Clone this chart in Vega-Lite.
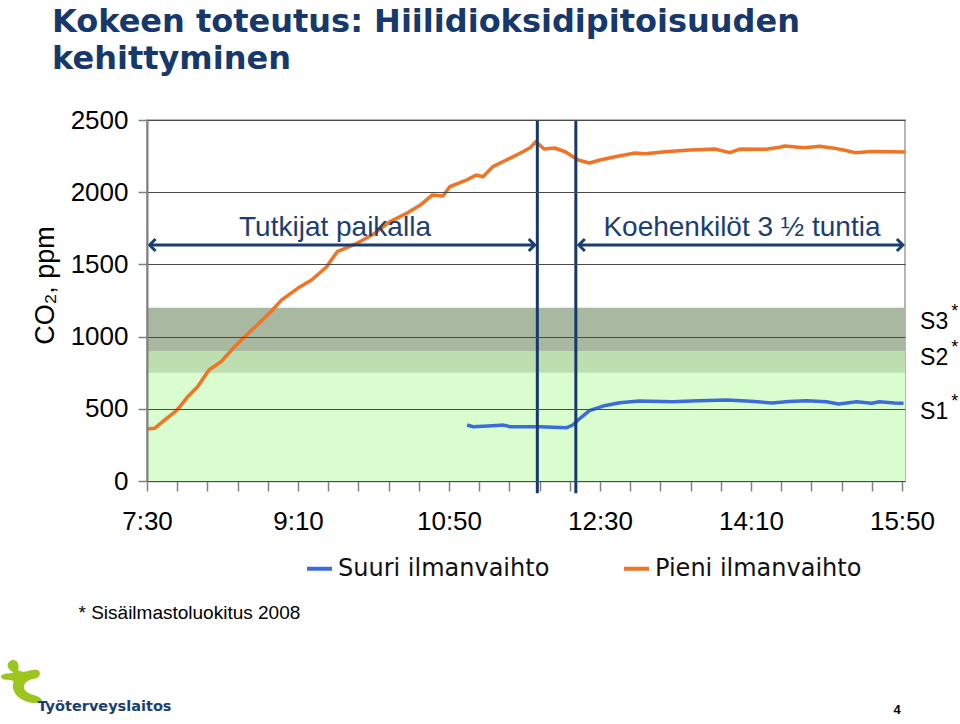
{
  "$schema": "https://vega.github.io/schema/vega-lite/v6.json",
  "width": 758,
  "height": 361,
  "autosize": {"type": "none"},
  "padding": {"left": 147, "top": 120, "right": 55, "bottom": 243},
  "background": "white",
  "config": {"view": {"stroke": "#a0a0a0", "strokeWidth": 1.5}},
  "title": {
    "text": ["Kokeen toteutus: Hiilidioksidipitoisuuden", "kehittyminen"],
    "anchor": "start",
    "frame": "group",
    "dx": -95,
    "offset": -1,
    "baseline": "bottom",
    "font": "DejaVu Sans",
    "fontWeight": "bold",
    "fontSize": 32,
    "lineHeight": 37,
    "color": "#17386B"
  },
  "datasets": {
    "series": [
      {"t": 450, "co2": 360, "s": "Pieni ilmanvaihto"},
      {"t": 455, "co2": 365, "s": "Pieni ilmanvaihto"},
      {"t": 461.6, "co2": 422, "s": "Pieni ilmanvaihto"},
      {"t": 468, "co2": 475, "s": "Pieni ilmanvaihto"},
      {"t": 471, "co2": 505, "s": "Pieni ilmanvaihto"},
      {"t": 477, "co2": 584, "s": "Pieni ilmanvaihto"},
      {"t": 483.5, "co2": 653, "s": "Pieni ilmanvaihto"},
      {"t": 491, "co2": 769, "s": "Pieni ilmanvaihto"},
      {"t": 499, "co2": 826, "s": "Pieni ilmanvaihto"},
      {"t": 508, "co2": 930, "s": "Pieni ilmanvaihto"},
      {"t": 514.6, "co2": 999, "s": "Pieni ilmanvaihto"},
      {"t": 523, "co2": 1080, "s": "Pieni ilmanvaihto"},
      {"t": 532, "co2": 1172, "s": "Pieni ilmanvaihto"},
      {"t": 539, "co2": 1253, "s": "Pieni ilmanvaihto"},
      {"t": 550, "co2": 1336, "s": "Pieni ilmanvaihto"},
      {"t": 559, "co2": 1392, "s": "Pieni ilmanvaihto"},
      {"t": 569, "co2": 1484, "s": "Pieni ilmanvaihto"},
      {"t": 572, "co2": 1530, "s": "Pieni ilmanvaihto"},
      {"t": 576, "co2": 1588, "s": "Pieni ilmanvaihto"},
      {"t": 589, "co2": 1646, "s": "Pieni ilmanvaihto"},
      {"t": 599, "co2": 1703, "s": "Pieni ilmanvaihto"},
      {"t": 611, "co2": 1796, "s": "Pieni ilmanvaihto"},
      {"t": 622, "co2": 1854, "s": "Pieni ilmanvaihto"},
      {"t": 631, "co2": 1911, "s": "Pieni ilmanvaihto"},
      {"t": 639, "co2": 1981, "s": "Pieni ilmanvaihto"},
      {"t": 646, "co2": 1974, "s": "Pieni ilmanvaihto"},
      {"t": 650.5, "co2": 2038, "s": "Pieni ilmanvaihto"},
      {"t": 661.5, "co2": 2084, "s": "Pieni ilmanvaihto"},
      {"t": 668, "co2": 2119, "s": "Pieni ilmanvaihto"},
      {"t": 672.5, "co2": 2107, "s": "Pieni ilmanvaihto"},
      {"t": 679, "co2": 2177, "s": "Pieni ilmanvaihto"},
      {"t": 688, "co2": 2223, "s": "Pieni ilmanvaihto"},
      {"t": 699, "co2": 2280, "s": "Pieni ilmanvaihto"},
      {"t": 704, "co2": 2310, "s": "Pieni ilmanvaihto"},
      {"t": 707.5, "co2": 2350, "s": "Pieni ilmanvaihto"},
      {"t": 713, "co2": 2299, "s": "Pieni ilmanvaihto"},
      {"t": 720, "co2": 2306, "s": "Pieni ilmanvaihto"},
      {"t": 727, "co2": 2280, "s": "Pieni ilmanvaihto"},
      {"t": 735.6, "co2": 2223, "s": "Pieni ilmanvaihto"},
      {"t": 743, "co2": 2202, "s": "Pieni ilmanvaihto"},
      {"t": 750, "co2": 2223, "s": "Pieni ilmanvaihto"},
      {"t": 760, "co2": 2246, "s": "Pieni ilmanvaihto"},
      {"t": 773, "co2": 2271, "s": "Pieni ilmanvaihto"},
      {"t": 780, "co2": 2266, "s": "Pieni ilmanvaihto"},
      {"t": 793, "co2": 2280, "s": "Pieni ilmanvaihto"},
      {"t": 800, "co2": 2285, "s": "Pieni ilmanvaihto"},
      {"t": 809.5, "co2": 2292, "s": "Pieni ilmanvaihto"},
      {"t": 826, "co2": 2299, "s": "Pieni ilmanvaihto"},
      {"t": 836, "co2": 2274, "s": "Pieni ilmanvaihto"},
      {"t": 842.6, "co2": 2299, "s": "Pieni ilmanvaihto"},
      {"t": 860, "co2": 2298, "s": "Pieni ilmanvaihto"},
      {"t": 869, "co2": 2311, "s": "Pieni ilmanvaihto"},
      {"t": 872.5, "co2": 2320, "s": "Pieni ilmanvaihto"},
      {"t": 885, "co2": 2308, "s": "Pieni ilmanvaihto"},
      {"t": 895.6, "co2": 2318, "s": "Pieni ilmanvaihto"},
      {"t": 905, "co2": 2305, "s": "Pieni ilmanvaihto"},
      {"t": 912, "co2": 2290, "s": "Pieni ilmanvaihto"},
      {"t": 919, "co2": 2274, "s": "Pieni ilmanvaihto"},
      {"t": 930, "co2": 2282, "s": "Pieni ilmanvaihto"},
      {"t": 942, "co2": 2280, "s": "Pieni ilmanvaihto"},
      {"t": 952, "co2": 2278, "s": "Pieni ilmanvaihto"},
      {"t": 662, "co2": 388, "s": "Suuri ilmanvaihto"},
      {"t": 666, "co2": 376, "s": "Suuri ilmanvaihto"},
      {"t": 679, "co2": 383, "s": "Suuri ilmanvaihto"},
      {"t": 686, "co2": 387, "s": "Suuri ilmanvaihto"},
      {"t": 688, "co2": 383, "s": "Suuri ilmanvaihto"},
      {"t": 690, "co2": 376, "s": "Suuri ilmanvaihto"},
      {"t": 710, "co2": 376, "s": "Suuri ilmanvaihto"},
      {"t": 728, "co2": 369, "s": "Suuri ilmanvaihto"},
      {"t": 732, "co2": 388, "s": "Suuri ilmanvaihto"},
      {"t": 737, "co2": 436, "s": "Suuri ilmanvaihto"},
      {"t": 743, "co2": 487, "s": "Suuri ilmanvaihto"},
      {"t": 752, "co2": 519, "s": "Suuri ilmanvaihto"},
      {"t": 763, "co2": 542, "s": "Suuri ilmanvaihto"},
      {"t": 776, "co2": 554, "s": "Suuri ilmanvaihto"},
      {"t": 798, "co2": 549, "s": "Suuri ilmanvaihto"},
      {"t": 815, "co2": 555, "s": "Suuri ilmanvaihto"},
      {"t": 834, "co2": 561, "s": "Suuri ilmanvaihto"},
      {"t": 850, "co2": 552, "s": "Suuri ilmanvaihto"},
      {"t": 864, "co2": 540, "s": "Suuri ilmanvaihto"},
      {"t": 875, "co2": 550, "s": "Suuri ilmanvaihto"},
      {"t": 887, "co2": 556, "s": "Suuri ilmanvaihto"},
      {"t": 900, "co2": 549, "s": "Suuri ilmanvaihto"},
      {"t": 908, "co2": 533, "s": "Suuri ilmanvaihto"},
      {"t": 920, "co2": 549, "s": "Suuri ilmanvaihto"},
      {"t": 930, "co2": 538, "s": "Suuri ilmanvaihto"},
      {"t": 935, "co2": 549, "s": "Suuri ilmanvaihto"},
      {"t": 945, "co2": 540, "s": "Suuri ilmanvaihto"},
      {"t": 951, "co2": 538, "s": "Suuri ilmanvaihto"}
    ],
    "bands": [
      {"band": "S1", "lo": 0, "hi": 750},
      {"band": "S2", "lo": 750, "hi": 900},
      {"band": "S3", "lo": 900, "hi": 1200}
    ],
    "events": [{"t": 708.5}, {"t": 734}],
    "arrows": [
      {"from": 451.7, "to": 706.8, "y": 1634},
      {"from": 736, "to": 950.6, "y": 1634}
    ],
    "notes": [
      {"label": "Tutkijat paikalla", "t": 574.5, "co2": 1755},
      {"label": "Koehenkilöt 3 ½ tuntia", "t": 844, "co2": 1755}
    ],
    "classes": [
      {"label": "S3", "t": 962, "co2": 1101, "star": 1170, "ts": 985},
      {"label": "S2", "t": 962, "co2": 852, "star": 921, "ts": 985},
      {"label": "S1", "t": 962, "co2": 478, "star": 547, "ts": 985}
    ],
    "logo": [{"name": "Työterveyslaitos", "t": 367.5, "co2": -1385, "tt": 377.4, "ty": -1565}],
    "page": [{"label": "4", "t": 946.7, "co2": -1586}]
  },
  "layer": [
    {
      "data": {"name": "bands"},
      "mark": {"type": "rect"},
      "encoding": {
        "y": {"field": "lo", "type": "quantitative", "scale": {"domain": [0, 2500], "nice": false}},
        "y2": {"field": "hi"},
        "color": {
          "field": "band",
          "type": "nominal",
          "scale": {"domain": ["S1", "S2", "S3"], "range": ["#DAFDD0", "#BDDFB0", "#A9B8A0"]},
          "legend": null
        }
      }
    },
    {
      "data": {"name": "series"},
      "mark": {"type": "line", "strokeWidth": 3.5, "strokeJoin": "round"},
      "encoding": {
        "x": {
          "field": "t",
          "type": "quantitative",
          "scale": {"domain": [450, 952], "nice": false, "zero": false},
          "axis": {
            "values": [450, 470, 490, 510, 530, 550, 570, 590, 610, 630, 650, 670, 690, 710, 730, 750, 770, 790, 810, 830, 850, 870, 890, 910, 930, 950],
            "tickCount": 100,
            "labelExpr": "datum.value % 100 == 50 ? (floor(datum.value / 60) + ':' + (datum.value % 60 < 10 ? '0' : '') + (datum.value % 60)) : ''",
            "labelOverlap": false,
            "labelFlush": false,
            "labelBound": false,
            "labelFont": "Liberation Sans",
            "labelFontSize": 26,
            "labelColor": "#000000",
            "labelPadding": 17,
            "labelBaseline": "top",
            "tickSize": 10,
            "tickColor": "#808080",
            "tickWidth": 1.5,
            "domainColor": "#808080",
            "domainWidth": 1.5,
            "grid": false,
            "title": "* Sisäilmastoluokitus 2008",
            "titleFont": "Liberation Sans",
            "titleFontSize": 19,
            "titleFontWeight": "normal",
            "titleColor": "#000000",
            "titleAnchor": "start",
            "titleAlign": "left",
            "titleBaseline": "middle",
            "titleX": -69,
            "titleY": 131
          }
        },
        "y": {
          "field": "co2",
          "type": "quantitative",
          "scale": {"domain": [0, 2500], "nice": false},
          "axis": {
            "values": [0, 500, 1000, 1500, 2000, 2500],
            "format": "d",
            "zindex": 1,
            "grid": true,
            "gridColor": "#4a4a4a",
            "gridWidth": 1,
            "labelFont": "Liberation Sans",
            "labelFontSize": 26,
            "labelColor": "#000000",
            "labelPadding": 10,
            "tickSize": 9,
            "tickColor": "#808080",
            "tickWidth": 1.5,
            "domainColor": "#808080",
            "domainWidth": 2,
            "title": "CO₂, ppm",
            "titleFont": "Liberation Sans",
            "titleFontSize": 27,
            "titleFontWeight": "normal",
            "titleColor": "#000000",
            "titleAngle": -90,
            "titleAlign": "center",
            "titleBaseline": "middle",
            "titleX": -102,
            "titleY": 165
          }
        },
        "color": {
          "field": "s",
          "type": "nominal",
          "scale": {"domain": ["Suuri ilmanvaihto", "Pieni ilmanvaihto"], "range": ["#3C6CDC", "#F07424"]},
          "legend": {
            "orient": "none",
            "legendX": 158,
            "legendY": 434,
            "direction": "horizontal",
            "title": null,
            "symbolType": "stroke",
            "symbolSize": 625,
            "symbolStrokeWidth": 4,
            "labelFont": "DejaVu Sans",
            "labelFontSize": 24,
            "labelColor": "#111111",
            "labelLimit": 400,
            "columnPadding": 66
          }
        }
      }
    },
    {
      "data": {"name": "events"},
      "mark": {"type": "rule", "color": "#17386B", "strokeWidth": 3},
      "encoding": {
        "x": {"field": "t", "type": "quantitative"},
        "y": {"datum": 2500},
        "y2": {"datum": -85}
      }
    },
    {
      "data": {"name": "arrows"},
      "mark": {"type": "rule", "color": "#1B3E72", "strokeWidth": 3},
      "encoding": {
        "x": {"field": "from", "type": "quantitative"},
        "x2": {"field": "to"},
        "y": {"field": "y", "type": "quantitative"}
      }
    },
    {
      "data": {"name": "arrows"},
      "mark": {"type": "point", "shape": "M 1 -1 L 0 0 L 1 1", "filled": false, "color": "#1B3E72", "strokeWidth": 3, "size": 144, "opacity": 1},
      "encoding": {
        "x": {"field": "from", "type": "quantitative"},
        "y": {"field": "y", "type": "quantitative"}
      }
    },
    {
      "data": {"name": "arrows"},
      "mark": {"type": "point", "shape": "M -1 -1 L 0 0 L -1 1", "filled": false, "color": "#1B3E72", "strokeWidth": 3, "size": 144, "opacity": 1},
      "encoding": {
        "x": {"field": "to", "type": "quantitative"},
        "y": {"field": "y", "type": "quantitative"}
      }
    },
    {
      "data": {"name": "notes"},
      "mark": {"type": "text", "font": "Liberation Sans", "fontSize": 28, "color": "#1B3E72", "align": "center", "baseline": "middle"},
      "encoding": {
        "x": {"field": "t", "type": "quantitative"},
        "y": {"field": "co2", "type": "quantitative"},
        "text": {"field": "label"}
      }
    },
    {
      "data": {"name": "classes"},
      "mark": {"type": "text", "font": "Liberation Sans", "fontSize": 23, "color": "#000000", "align": "left", "baseline": "middle"},
      "encoding": {
        "x": {"field": "t", "type": "quantitative"},
        "y": {"field": "co2", "type": "quantitative"},
        "text": {"field": "label"}
      }
    },
    {
      "data": {"name": "classes"},
      "mark": {"type": "text", "font": "Liberation Sans", "fontSize": 18, "color": "#000000", "align": "center", "baseline": "middle", "text": "*"},
      "encoding": {
        "x": {"field": "ts", "type": "quantitative"},
        "y": {"field": "star", "type": "quantitative"}
      }
    },
    {
      "data": {"name": "logo"},
      "mark": {"type": "point", "shape": "M -0.6 -0.9 C -0.3 -1.1 -0.1 -0.8 -0.2 -0.5 C 0.1 -0.3 0.4 -0.6 0.7 -0.5 C 0.9 -0.4 0.8 -0.1 0.5 -0.1 C 0.2 0 0 0.1 0.1 0.4 C 0.3 0.7 0.8 0.6 0.9 0.9 C 0.7 1.1 0.2 1 -0.1 0.8 C -0.4 0.6 -0.5 0.3 -0.4 0 C -0.6 -0.1 -0.9 0 -1 -0.2 C -0.9 -0.4 -0.6 -0.3 -0.4 -0.4 C -0.6 -0.5 -0.8 -0.7 -0.6 -0.9 Z", "filled": true, "color": "#9CC51E", "size": 1900, "opacity": 1},
      "encoding": {
        "x": {"field": "t", "type": "quantitative"},
        "y": {"field": "co2", "type": "quantitative"}
      }
    },
    {
      "data": {"name": "logo"},
      "mark": {"type": "text", "font": "DejaVu Sans", "fontSize": 14.5, "fontWeight": "bold", "color": "#1B3E72", "align": "left", "baseline": "middle"},
      "encoding": {
        "x": {"field": "tt", "type": "quantitative"},
        "y": {"field": "ty", "type": "quantitative"},
        "text": {"field": "name"}
      }
    },
    {
      "data": {"name": "page"},
      "mark": {"type": "text", "font": "Liberation Sans", "fontSize": 13, "fontWeight": "bold", "color": "#000000", "align": "center", "baseline": "middle"},
      "encoding": {
        "x": {"field": "t", "type": "quantitative"},
        "y": {"field": "co2", "type": "quantitative"},
        "text": {"field": "label"}
      }
    }
  ],
  "resolve": {"scale": {"color": "independent"}}
}
